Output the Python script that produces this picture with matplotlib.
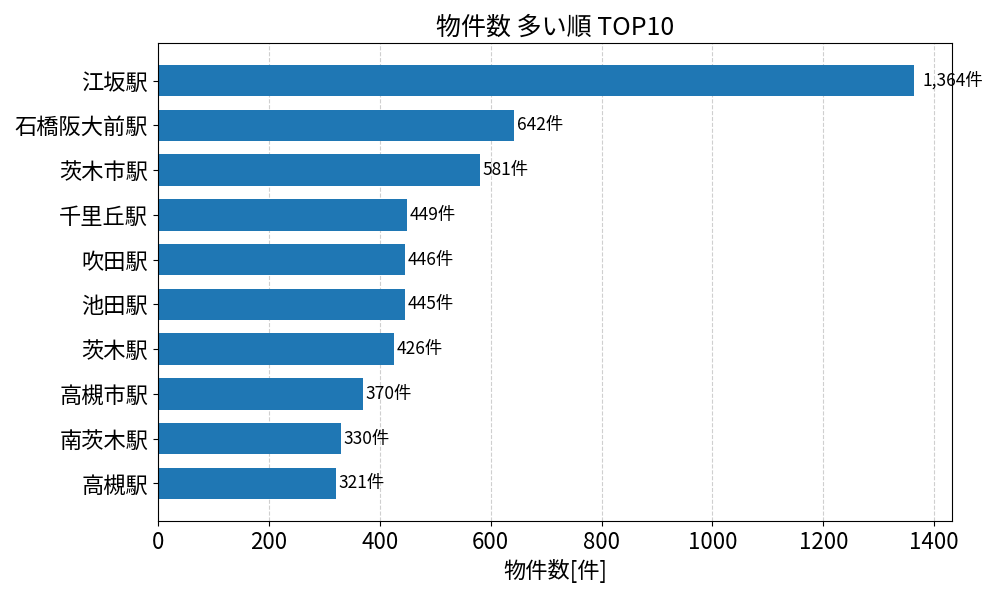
import matplotlib.pyplot as plt

plt.rcParams['font.family'] = ['Noto Sans CJK JP', 'DejaVu Sans']

# 駅名と物件数（多い順）
stations = ['江坂駅', '石橋阪大前駅', '茨木市駅', '千里丘駅', '吹田駅',
            '池田駅', '茨木駅', '高槻市駅', '南茨木駅', '高槻駅']
counts = [1364, 642, 581, 449, 446, 445, 426, 370, 330, 321]

fig, ax = plt.subplots(figsize=(10, 6), dpi=100)
fig.subplots_adjust(left=0.158, right=0.952, top=0.928, bottom=0.132)

# 上から多い順に並べるため逆順で描く
ax.barh(stations[::-1], counts[::-1], height=0.7, color='#1f77b4', zorder=2)

for i, v in enumerate(counts[::-1]):
    off = 15 if v >= 1000 else 5
    ax.text(v + off, i, f'{v:,}件', va='center', ha='left', fontsize=12.5)

ax.set_title('物件数 多い順 TOP10', fontsize=18)
ax.set_xlabel('物件数[件]', fontsize=16)
ax.tick_params(axis='both', labelsize=16)
ax.grid(axis='x', linestyle='--', alpha=0.6, zorder=0)
ax.set_axisbelow(True)

fig.savefig('out.png', dpi=100)
